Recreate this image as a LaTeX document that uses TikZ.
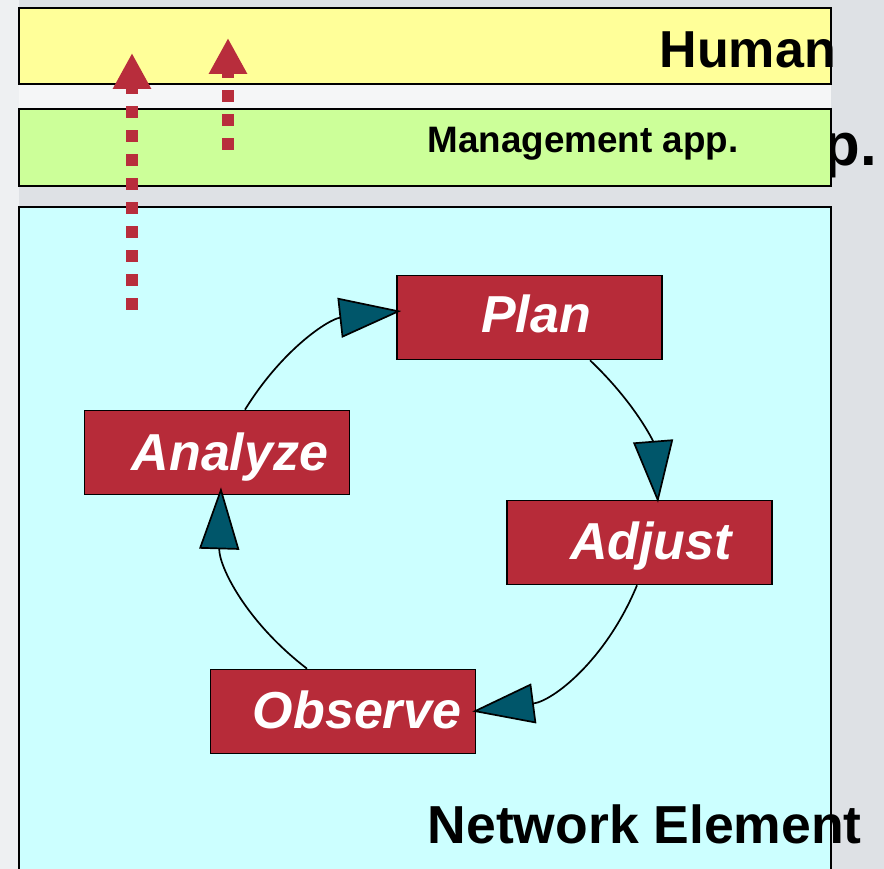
\documentclass[tikz,border=0pt]{standalone}
\usepackage{fontspec}
\setmainfont{Liberation Sans}
\usetikzlibrary{arrows.meta}
\definecolor{bggray}{HTML}{DEE1E5}
\definecolor{humanyellow}{HTML}{FFFF99}
\definecolor{appgreen}{HTML}{CCFF99}
\definecolor{necyan}{HTML}{CCFFFF}
\definecolor{boxred}{HTML}{B72B39}
\definecolor{dashred}{HTML}{B82D3C}
\definecolor{tealarrow}{HTML}{00566A}
\tikzset{
  layerbox/.style={draw=black, line width=1.8pt, rectangle, inner sep=0pt},
  redbox/.style={draw=black, line width=1.6pt, fill=boxred, rectangle, inner sep=0pt, minimum width=265pt, minimum height=84pt},
  bigtxt/.style={font=\bfseries\fontsize{52}{60}\selectfont, inner sep=0pt},
  boxtxt/.style={font=\bfseries\itshape\fontsize{52}{60}\selectfont, text=white, inner sep=0pt, anchor=base},
  cycarrow/.style={draw=black, line width=1.7pt, -{Triangle[length=62pt,width=40pt,fill=tealarrow]}},
  redup/.style={draw=dashred, line width=12pt, dash pattern=on 12pt off 12pt, -{Triangle[length=36pt,width=36pt,fill=dashred]}}
}
\begin{document}
\begin{tikzpicture}[x=1pt,y=1pt]
\useasboundingbox (0,0) rectangle (884,869);
\fill[bggray] (0,0) rectangle (884,869);
\fill[white!70!bggray] (19,785) rectangle (831,760);
\fill[white!50!bggray] (0,0) rectangle (19,869);

% hidden large text behind the application layer
\node[font=\bfseries\fontsize{60}{70}\selectfont, inner sep=0pt, anchor=base east] (bigapp) at (877,703) {Management app.};

% layers
\node[layerbox, fill=humanyellow, minimum width=812pt, minimum height=76pt] (human) at (425,823) {};
\node[bigtxt, anchor=base east] (humantxt) at (836,801) {Human};

\node[layerbox, fill=appgreen, minimum width=812pt, minimum height=77pt] (app) at (425,721.5) {};
\node[font=\bfseries\fontsize{36.8}{42}\selectfont, inner sep=0pt, anchor=base] (apptxt) at (583,716) {Management app.};

\draw[line width=1.8pt, fill=necyan] (19,-20) rectangle (831,662);
\node[font=\bfseries\fontsize{53.5}{60}\selectfont, inner sep=0pt, anchor=base east] (netxt) at (862,25) {Network Element};

% cycle boxes
\node[redbox] (plan) at (529.5,551.5) {};
\node[redbox] (an) at (217,416.5) {};
\node[redbox] (adj) at (639.5,326.5) {};
\node[redbox] (obs) at (343,157.5) {};

% cycle arcs
\draw[cycarrow] ([xshift=28pt]an.north) to[bend left=26] ([shift={(5pt,6.5pt)}]plan.west);
\draw[cycarrow] ([xshift=60.5pt]plan.south) to[bend left=21] ([shift={(18.5pt,-3pt)}]adj.north);
\draw[cycarrow] ([xshift=-2.5pt]adj.south) to[bend left=30] ([xshift=-4pt]obs.east);
\draw[cycarrow] ([xshift=-36pt]obs.north) to[bend left=27] ([shift={(4pt,8pt)}]an.south);

% labels
\node[boxtxt] (plantxt) at (536,536) {Plan};
\node[boxtxt] (antxt) at (230,398) {Analyze};
\node[boxtxt] (adjtxt) at (651,309) {Adjust};
\node[boxtxt] (obstxt) at (357,140) {Observe};

% dotted red arrows
\coordinate (d1s) at (132,559);
\coordinate (d1e) at (132,816);
\coordinate (d2s) at (228,719);
\coordinate (d2e) at (228,831);
\draw[redup] (d1s) -- (d1e);
\draw[redup] (d2s) -- (d2e);
\end{tikzpicture}
\end{document}
